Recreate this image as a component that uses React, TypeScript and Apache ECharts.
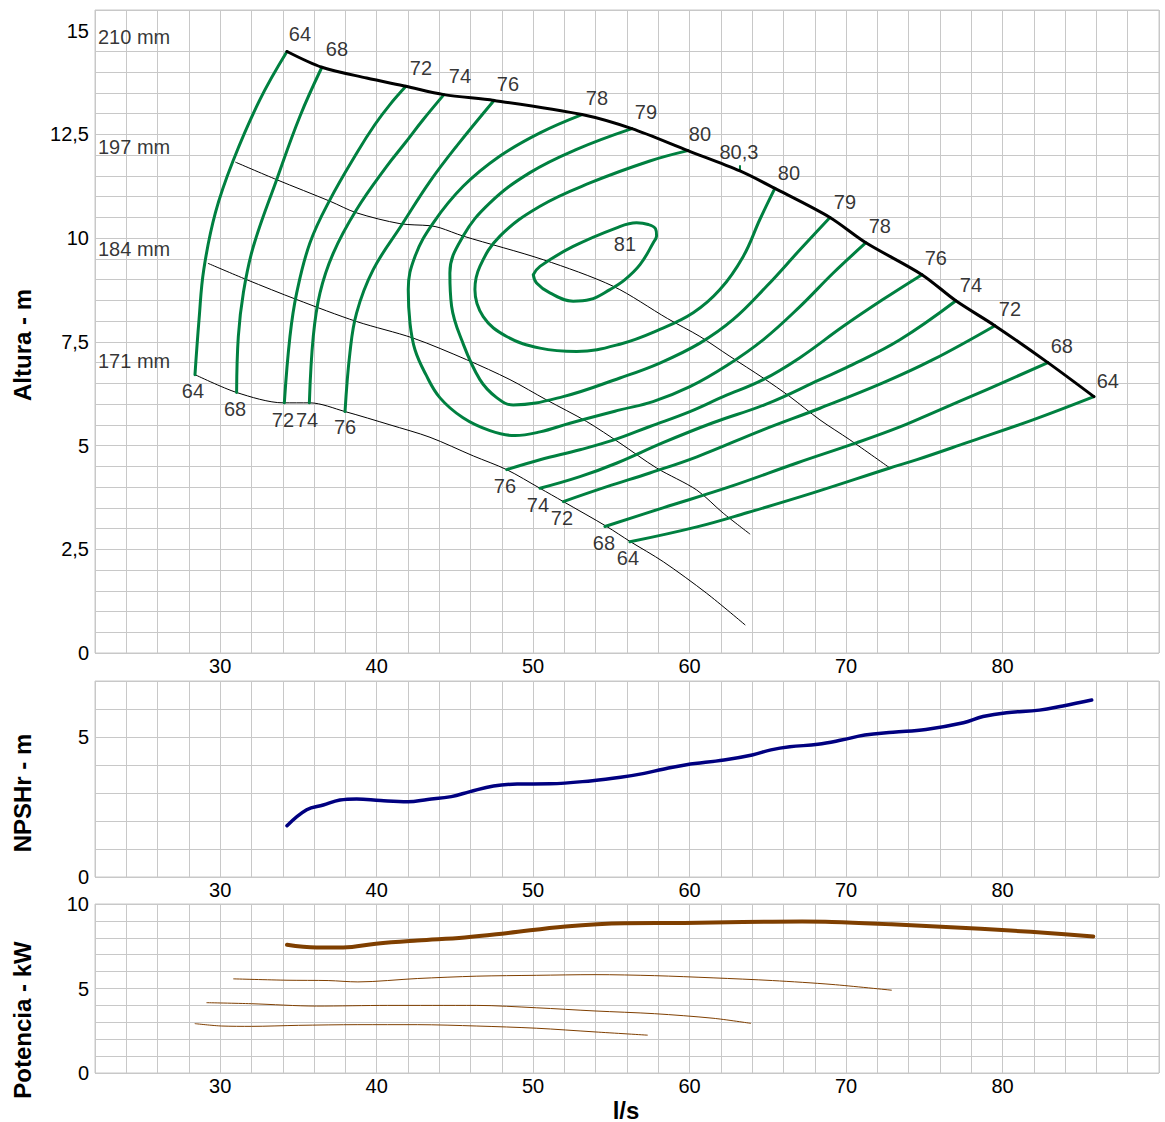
import React, { useEffect, useRef } from "react";
import * as echarts from "echarts";

// ---------- Head curves (Altura - m) ----------
const head210 = [[34.27,14.50],[36.50,14.12],[39.36,13.86],[41.87,13.66],[44.30,13.46],[47.50,13.32],[53.12,12.98],[56.31,12.64],[59.89,12.11],[63.22,11.62],[65.45,11.20],[68.97,10.50],[71.27,9.89],[74.85,9.12],[77.02,8.49],[79.51,7.89],[82.90,7.00],[85.84,6.18]];
const head197 = [[30.99,11.83],[33.61,11.41],[37.02,10.89],[38.72,10.61],[41.49,10.35],[43.41,10.30],[44.05,10.25],[45.53,10.05],[50.65,9.48],[55.12,8.84],[58.60,8.06],[60.66,7.63],[62.58,7.15],[64.70,6.63],[66.41,6.18],[68.33,5.62],[70.24,5.14],[72.80,4.46]];
const head184 = [[29.24,9.39],[31.69,9.00],[34.89,8.52],[38.72,7.99],[42.34,7.59],[45.75,7.07],[48.52,6.59],[50.86,6.10],[53.42,5.58],[55.55,5.06],[57.89,4.46],[60.45,3.93],[62.15,3.37],[63.85,2.87]];
const head171 = [[28.39,6.71],[31.05,6.28],[34.03,6.03],[35.74,6.03],[37.98,5.82],[40.85,5.50],[43.41,5.20],[46.18,4.75],[48.31,4.42],[50.44,3.97],[51.93,3.65],[54.70,3.05],[56.19,2.69],[58.32,2.20],[61.09,1.44],[63.54,0.68]];

// ---------- Efficiency iso-curves (%) ----------
const eff64L = [[34.27,14.50],[32.54,13.34],[30.82,11.86],[29.70,10.62],[28.95,9.24],[28.65,8.04],[28.39,6.71]];
const eff68L = [[36.50,14.12],[35.10,12.94],[33.61,11.41],[32.12,9.80],[31.48,8.68],[31.16,7.63],[31.05,6.28]];
const eff72L = [[41.87,13.66],[40.85,13.22],[39.89,12.74],[38.74,12.06],[37.02,10.93],[35.74,9.89],[34.89,8.68],[34.46,7.63],[34.10,6.03]];
const eff74L = [[44.30,13.46],[42.98,12.86],[41.83,12.30],[40.64,11.73],[38.72,10.69],[37.23,9.64],[36.38,8.68],[35.95,7.63],[35.70,6.03]];
const eff76L = [[47.50,13.32],[45.11,12.22],[43.41,11.37],[41.62,10.33],[39.78,9.24],[38.72,8.20],[38.29,7.23],[37.98,5.82]];
const eff78 = [[53.12,12.98],[50.44,12.54],[47.88,11.98],[45.53,11.25],[43.62,10.37],[42.45,9.56],[42.02,8.76],[42.13,7.96],[42.45,7.31],[43.15,6.71],[44.05,6.15],[45.52,5.67],[47.24,5.36],[48.84,5.24],[50.44,5.33],[52.35,5.54],[55.55,5.86],[57.66,6.06],[60.02,6.42],[62.38,6.93],[64.70,7.55],[67.05,8.35],[69.18,9.16],[71.27,9.89]];
const eff79 = [[56.31,12.64],[52.78,12.14],[49.80,11.58],[47.24,10.85],[45.53,10.05],[44.68,9.16],[44.79,8.36],[45.43,7.55],[46.60,6.59],[47.69,6.15],[48.73,5.98],[51.92,6.18],[55.55,6.63],[58.10,6.99],[60.66,7.47],[62.79,8.04],[64.92,8.84],[67.05,9.72],[68.97,10.50]];
const eff80 = [[59.89,12.11],[57.46,11.86],[53.63,11.33],[50.44,10.77],[47.88,10.05],[46.60,9.32],[46.28,8.76],[46.81,8.11],[48.31,7.63],[50.44,7.35],[52.78,7.27],[55.60,7.45],[58.10,7.80],[60.23,8.20],[61.94,8.76],[63.43,9.56],[64.49,10.45],[65.45,11.20]];
const eff81 = [[50.01,9.12],[50.44,9.32],[52.56,9.80],[55.34,10.25],[56.61,10.37],[57.36,10.33],[57.82,10.23],[57.89,10.06],[57.68,9.89],[56.83,9.36],[55.87,9.00],[54.91,8.76],[53.63,8.52],[52.56,8.48],[51.07,8.68],[50.22,8.92],[50.01,9.12]];
const eff76R = [[48.31,4.42],[50.44,4.66],[52.99,4.90],[55.12,5.13],[57.46,5.46],[60.02,5.82],[62.15,6.18],[64.70,6.59],[67.05,7.12],[69.80,7.87],[72.35,8.52],[74.85,9.12]];
const eff74R = [[50.44,3.97],[52.99,4.25],[55.36,4.58],[58.30,5.07],[61.49,5.55],[64.90,6.00],[68.33,6.59],[70.24,6.92],[73.44,7.55],[77.02,8.49]];
const eff72R = [[51.93,3.65],[54.72,4.01],[57.46,4.34],[60.47,4.73],[64.69,5.38],[68.33,5.90],[72.35,6.51],[75.55,7.07],[79.51,7.89]];
const eff68R = [[54.59,3.05],[58.30,3.50],[62.58,4.01],[66.86,4.58],[70.69,5.07],[73.44,5.45],[75.55,5.79],[79.00,6.35],[82.90,7.00]];
const eff64R = [[56.19,2.68],[60.47,3.04],[63.66,3.38],[67.88,3.86],[72.80,4.46],[74.53,4.66],[77.72,5.07],[81.94,5.62],[85.84,6.18]];
const bestEffMark = [[63.22,11.62],[63.22,11.74]];

// ---------- Labels on the head chart ----------
const effLabels: [number, number, string][] = [
  [35.10,14.91,"64"],[37.46,14.55,"68"],[42.83,14.09,"72"],[45.32,13.90,"74"],[48.39,13.71,"76"],
  [54.08,13.39,"78"],[57.21,13.03,"79"],[60.66,12.52,"80"],[63.15,12.07,"80,3"],[66.35,11.58,"80"],
  [69.93,10.86,"79"],[72.16,10.30,"78"],[75.74,9.51,"76"],[77.98,8.88,"74"],[80.47,8.30,"72"],
  [83.79,7.41,"68"],[86.73,6.56,"64"],
  [28.26,6.32,"64"],[30.95,5.89,"68"],[34.01,5.62,"72"],[35.55,5.62,"74"],[37.98,5.45,"76"],
  [48.20,4.03,"76"],[50.31,3.57,"74"],[51.84,3.26,"72"],[54.53,2.65,"68"],[56.06,2.29,"64"],
  [55.87,9.87,"81"],
];
const diaLabels: [number, number, string][] = [
  [22.19,14.84,"210 mm"],[22.19,12.19,"197 mm"],[22.19,9.75,"184 mm"],[22.19,7.05,"171 mm"],
];

// ---------- NPSHr ----------
const npsh = [[34.27,1.83],[35.53,2.40],[36.59,2.57],[37.65,2.75],[38.72,2.79],[40.26,2.73],[42.0,2.69],[43.26,2.77],[44.77,2.87],[45.97,3.05],[47.47,3.25],[48.98,3.32],[51.08,3.33],[53.79,3.44],[55.59,3.56],[57.1,3.70],[58.3,3.85],[59.8,4.01],[62.2,4.18],[64.0,4.36],[65.2,4.54],[66.4,4.65],[68.2,4.74],[69.7,4.89],[71.2,5.07],[73.0,5.17],[75.1,5.27],[77.5,5.51],[78.75,5.73],[80.26,5.87],[82.36,5.96],[83.86,6.11],[85.7,6.32]];

// ---------- Power (Potencia - kW) ----------
const pow210 = [[34.27,7.59],[36.16,7.43],[37.86,7.43],[39.95,7.65],[42.6,7.84],[45.63,8.02],[48.28,8.27],[52.07,8.67],[55.86,8.86],[59.64,8.88],[63.4,8.94],[67.2,8.96],[69.1,8.94],[72.9,8.80],[76.7,8.63],[80.5,8.43],[83.1,8.27],[85.8,8.08]];
const pow197 = [[30.86,5.57],[34.27,5.49],[36.9,5.47],[38.8,5.39],[42.6,5.59],[46.4,5.73],[50.2,5.78],[53.96,5.82],[57.75,5.76],[61.5,5.63],[65.3,5.47],[69.1,5.24],[72.9,4.90]];
const pow184 = [[29.15,4.16],[31.99,4.10],[36.16,3.96],[40.7,4.0],[46.4,4.0],[50.2,3.86],[53.96,3.67],[57.75,3.51],[61.5,3.24],[63.9,2.94]];
const pow171 = [[28.4,2.92],[30.1,2.78],[32.0,2.76],[35.0,2.82],[38.8,2.86],[42.6,2.86],[46.4,2.78],[50.2,2.65],[53.96,2.43],[57.3,2.24]];

const FONT = '"Liberation Sans", Arial, Helvetica, sans-serif';
const FS = 20;
const GREEN = "#008040";
const GRID = "#c8c8c8";

const near = (v: number, step: number) => Math.abs(v / step - Math.round(v / step)) < 1e-6;

function xAxis(gi: number) {
  return {
    type: "value", gridIndex: gi, min: 22, max: 90, interval: 2,
    axisLine: { show: false }, axisTick: { show: false },
    splitLine: { show: true, lineStyle: { color: GRID, width: 1 } },
    axisLabel: {
      color: "#000", fontSize: FS, fontFamily: FONT, margin: 3,
      showMinLabel: true, showMaxLabel: true,
      formatter: (v: number) => (near(v, 10) && v >= 29 && v <= 81 ? String(Math.round(v)) : ""),
    },
  };
}
function yAxis(gi: number, max: number, interval: number, labelStep: number, lineColors: string | string[] = GRID) {
  return {
    type: "value", gridIndex: gi, min: 0, max, interval,
    axisLine: { show: false }, axisTick: { show: false },
    splitLine: { show: true, lineStyle: { color: lineColors, width: 1 } },
    axisLabel: {
      color: "#000", fontSize: FS, fontFamily: FONT, margin: 6,
      showMinLabel: true, showMaxLabel: true,
      formatter: (v: number) => (near(v, labelStep) ? String(Math.round(v * 10) / 10).replace(".", ",") : ""),
    },
  };
}
function line(data: number[][], color: string, width: number, gi: number, z = 2, smooth: number | boolean = 0.4) {
  return {
    type: "line", data, xAxisIndex: gi, yAxisIndex: gi, symbol: "none", showSymbol: false,
    smooth, silent: true, z, lineStyle: { color, width, cap: "round", join: "round" },
  };
}
function labels(items: [number, number, string][], position: string) {
  return {
    type: "scatter", xAxisIndex: 0, yAxisIndex: 0, symbol: "circle", symbolSize: 0.01, silent: true, z: 10,
    itemStyle: { color: "#000" },
    label: {
      show: true, position, distance: 0, formatter: "{b}", color: "#000",
      textBorderWidth: 0, fontSize: FS, fontFamily: FONT,
    },
    labelLayout: { hideOverlap: false },
    data: items.map(([x, y, t]) => ({ name: t, value: [x, y] })),
  };
}

export default function App() {
  const ref = useRef<HTMLDivElement>(null);
  useEffect(() => {
    const chart = echarts.init(ref.current!, null, { renderer: "svg" });
    const grids = [
      { left: 95, top: 10, width: 1064, height: 643 },
      { left: 95, top: 681, width: 1064, height: 196 },
      { left: 95, top: 904, width: 1064, height: 169 },
    ].map((g) => ({ ...g, show: true, borderColor: GRID, borderWidth: 1, containLabel: false }));

    // the head chart has no split line drawn at 15 m (its frame sits at 15.5)
    const topLines: string[] = [];
    for (let i = 0; i <= 31; i++) topLines.push(i === 30 ? "rgba(0,0,0,0)" : GRID);

    const option: any = {
      animation: false,
      backgroundColor: "#fff",
      textStyle: { fontFamily: FONT },
      grid: grids,
      xAxis: [xAxis(0), xAxis(1), xAxis(2)],
      yAxis: [yAxis(0, 15.5, 0.5, 2.5, topLines), yAxis(1, 7, 1, 5), yAxis(2, 10, 1, 5)],
      series: [
        line(head197, "#000", 1, 0, 2, 0.3),
        line(head184, "#000", 1, 0, 2, 0.3),
        line(head171, "#000", 1, 0, 2, 0.3),
        line(eff64L, GREEN, 3, 0, 3),
        line(eff68L, GREEN, 3, 0, 3),
        line(eff72L, GREEN, 3, 0, 3),
        line(eff74L, GREEN, 3, 0, 3),
        line(eff76L, GREEN, 3, 0, 3),
        line(eff78, GREEN, 3, 0, 3),
        line(eff79, GREEN, 3, 0, 3),
        line(eff80, GREEN, 3, 0, 3),
        line(eff81, GREEN, 3, 0, 3),
        line(eff76R, GREEN, 3, 0, 3),
        line(eff74R, GREEN, 3, 0, 3),
        line(eff72R, GREEN, 3, 0, 3),
        line(eff68R, GREEN, 3, 0, 3),
        line(eff64R, GREEN, 3, 0, 3),
        line(bestEffMark, GREEN, 2, 0, 3, false),
        line(head210, "#000", 3, 0, 4, 0.3),
        labels(effLabels, "inside"),
        labels(diaLabels, "right"),
        line(npsh, "#000080", 3.5, 1, 3, 0.4),
        line(pow210, "#7f3f00", 4, 2, 3, 0.4),
        line(pow197, "#7f3f00", 1, 2, 3, 0.3),
        line(pow184, "#7f3f00", 1, 2, 3, 0.3),
        line(pow171, "#7f3f00", 1, 2, 3, 0.3),
      ],
      graphic: [
        { type: "text", x: 22, y: 345, rotation: Math.PI / 2, style: { text: "Altura - m", font: `bold 24px ${FONT}`, fill: "#000", textAlign: "center", textVerticalAlign: "middle", textBaseline: "middle" } },
        { type: "text", x: 22, y: 793, rotation: Math.PI / 2, style: { text: "NPSHr - m", font: `bold 24px ${FONT}`, fill: "#000", textAlign: "center", textVerticalAlign: "middle", textBaseline: "middle" } },
        { type: "text", x: 22, y: 1020, rotation: Math.PI / 2, style: { text: "Potencia - kW", font: `bold 24px ${FONT}`, fill: "#000", textAlign: "center", textVerticalAlign: "middle", textBaseline: "middle" } },
        { type: "text", x: 626, y: 1110, style: { text: "l/s", font: `bold 24px ${FONT}`, fill: "#000", textAlign: "center", textVerticalAlign: "middle", textBaseline: "middle" } },
      ],
    };
    chart.setOption(option);
    return () => chart.dispose();
  }, []);
  return (
    <div
      ref={ref}
      style={{ position: "fixed", left: 0, top: 0, width: 1165, height: 1122, background: "#fff" }}
    />
  );
}
